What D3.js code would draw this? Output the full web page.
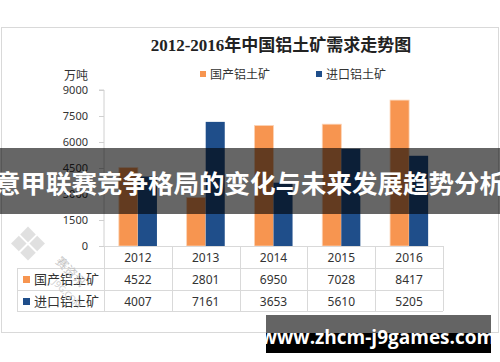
<!DOCTYPE html>
<html>
<head>
<meta charset="utf-8">
<script src="https://cdn.jsdelivr.net/npm/d3@7/dist/d3.min.js"></script>
<style>
  body { margin: 0; background: #fff; }
  svg { display: block; }
</style>
</head>
<body>
<svg width="500" height="362"></svg>
<script>
const years = ['2012', '2013', '2014', '2015', '2016'];
const seriesNames = ['国产铝土矿', '进口铝土矿'];
const domestic = [4522, 2801, 6950, 7028, 8417];
const imported = [4007, 7161, 3653, 5610, 5205];
const yTicks = [0, 1500, 3000, 4500, 6000, 7500, 9000];
const colors = ['#f79550', '#1f4e8a'];

const svg = d3.select('svg');
const cjk = '"Noto Sans CJK SC", "Noto Sans", sans-serif';
const num = '"Noto Sans", "Liberation Sans", sans-serif';

// frame
svg.append('rect')
  .attr('x', 1.5).attr('y', 27.5)
  .attr('width', 497).attr('height', 305)
  .attr('fill', '#fff')
  .attr('stroke', '#d9d9d9');

// title
svg.append('text')
  .attr('x', 281).attr('y', 51)
  .attr('text-anchor', 'middle')
  .style('font-family', '"Liberation Serif", "Noto Sans CJK SC", serif')
  .style('font-weight', 'bold')
  .style('font-size', '17px')
  .attr('fill', '#222')
  .text('2012-2016年中国铝土矿需求走势图');

const plot = { left: 104, right: 443, top: 90, bottom: 246 };

const x = d3.scaleBand().domain(years).range([plot.left, plot.right]);
const xs = d3.scaleBand().domain([0, 1]).range([0, x.bandwidth()]).paddingOuter(0.78);
const y = d3.scaleLinear().domain([0, 9000]).range([plot.bottom, plot.top]);

// y axis
const yAxis = svg.append('g')
  .attr('transform', `translate(${plot.left},0)`)
  .call(d3.axisLeft(y).tickValues(yTicks).tickSize(5).tickPadding(11).tickFormat(d3.format('d')));
yAxis.select('.domain').attr('stroke', '#d0d0d0').attr('d', `M-5,${plot.top}H0V${plot.bottom}`);
yAxis.selectAll('.tick line').attr('stroke', '#d0d0d0');
yAxis.selectAll('.tick text')
  .style('font-family', num).style('font-size', '11px').attr('fill', '#333');

svg.append('text')
  .attr('x', 88).attr('y', 80)
  .attr('text-anchor', 'end')
  .style('font-family', cjk).style('font-size', '12px').attr('fill', '#333')
  .text('万吨');

// legend
const legend = svg.append('g');
[[200, 0], [316, 1]].forEach(([lx, i]) => {
  legend.append('rect').attr('x', lx).attr('y', 71).attr('width', 6).attr('height', 6).attr('fill', colors[i]);
  legend.append('text').attr('x', lx + 10).attr('y', 79)
    .style('font-family', cjk).style('font-size', '12px').attr('fill', '#333')
    .text(seriesNames[i]);
});

// bars
[domestic, imported].forEach((vals, s) => {
  svg.append('g').selectAll('rect')
    .data(vals)
    .join('rect')
    .attr('x', (d, i) => x(years[i]) + xs(s))
    .attr('y', d => y(d))
    .attr('width', xs.bandwidth())
    .attr('height', d => y(0) - y(d))
    .attr('fill', colors[s])
    .attr('stroke', s === 0 ? '#fcd3b5' : 'none')
    .attr('stroke-width', 0.8);
});

// data table
const grid = svg.append('g').attr('stroke', '#d9d9d9').attr('fill', 'none');
const rowY = [246, 268, 290, 311];
grid.append('line').attr('x1', plot.left).attr('x2', plot.right).attr('y1', rowY[0] + 0.5).attr('y2', rowY[0] + 0.5);
[1, 2, 3].forEach(r => {
  grid.append('line').attr('x1', 17).attr('x2', plot.right).attr('y1', rowY[r] + 0.5).attr('y2', rowY[r] + 0.5);
});
grid.append('line').attr('x1', 17.5).attr('x2', 17.5).attr('y1', rowY[1]).attr('y2', rowY[3]);
years.concat(['end']).forEach((yr, i) => {
  const cx = plot.left + i * x.bandwidth();
  grid.append('line').attr('x1', Math.round(cx) + 0.5).attr('x2', Math.round(cx) + 0.5)
    .attr('y1', rowY[0]).attr('y2', rowY[3]);
});

svg.append('g').selectAll('text')
  .data(years)
  .join('text')
  .attr('x', d => x(d) + x.bandwidth() / 2)
  .attr('y', 262)
  .attr('text-anchor', 'middle')
  .style('font-family', num).style('font-size', '12px').attr('fill', '#333')
  .text(d => d);

[domestic, imported].forEach((vals, s) => {
  const ty = rowY[s + 1] + 16;
  svg.append('g').selectAll('text')
    .data(vals)
    .join('text')
    .attr('x', (d, i) => x(years[i]) + x.bandwidth() / 2)
    .attr('y', ty)
    .attr('text-anchor', 'middle')
    .style('font-family', num).style('font-size', '12px').attr('fill', '#333')
    .text(d => d);
  svg.append('rect').attr('x', 23).attr('y', rowY[s + 1] + 8).attr('width', 7).attr('height', 7).attr('fill', colors[s]);
  svg.append('text').attr('x', 34).attr('y', ty)
    .style('font-family', cjk).style('font-size', '13px').attr('fill', '#333')
    .text(seriesNames[s]);
});

// faint watermark logo, lower left
const wm = svg.append('g').attr('transform', 'translate(28,245) rotate(45)').attr('opacity', 0.22);
[[-13, -13], [0, -13], [-13, 0], [0, 0]].forEach(([a, b]) => {
  wm.append('rect').attr('x', a).attr('y', b).attr('width', 11).attr('height', 11).attr('fill', '#777');
});
svg.append('text')
  .attr('transform', 'translate(55,262) rotate(45)')
  .style('font-family', cjk).style('font-size', '12px').attr('fill', '#c4c4c4')
  .text('赛资讯');
svg.append('text')
  .attr('transform', 'translate(52,283) rotate(45)')
  .style('font-family', num).style('font-size', '9px').attr('fill', '#d0d0d0')
  .text('J9G.COM');

// banner overlay
svg.append('rect')
  .attr('x', 0).attr('y', 148).attr('width', 500).attr('height', 66)
  .attr('fill', '#000').attr('opacity', 0.6);
svg.append('text')
  .attr('x', 250).attr('y', 193)
  .attr('text-anchor', 'middle')
  .style('font-family', cjk).style('font-weight', 'bold').style('font-size', '25.5px')
  .attr('fill', '#fff')
  .text('意甲联赛竞争格局的变化与未来发展趋势分析');

// bottom url box
svg.append('rect').attr('x', 266).attr('y', 315).attr('width', 225).attr('height', 38).attr('fill', '#000');
svg.append('rect').attr('x', 266).attr('y', 315).attr('width', 225).attr('height', 18).attr('fill', '#646464');
svg.append('text')
  .attr('x', 378).attr('y', 344)
  .attr('text-anchor', 'middle')
  .style('font-family', '"Open Sans", "DejaVu Sans", sans-serif').style('font-weight', 'bold').style('font-size', '19px')
  .attr('fill', '#fff')
  .text('www.zhcm-j9games.com');
</script>
</body>
</html>
